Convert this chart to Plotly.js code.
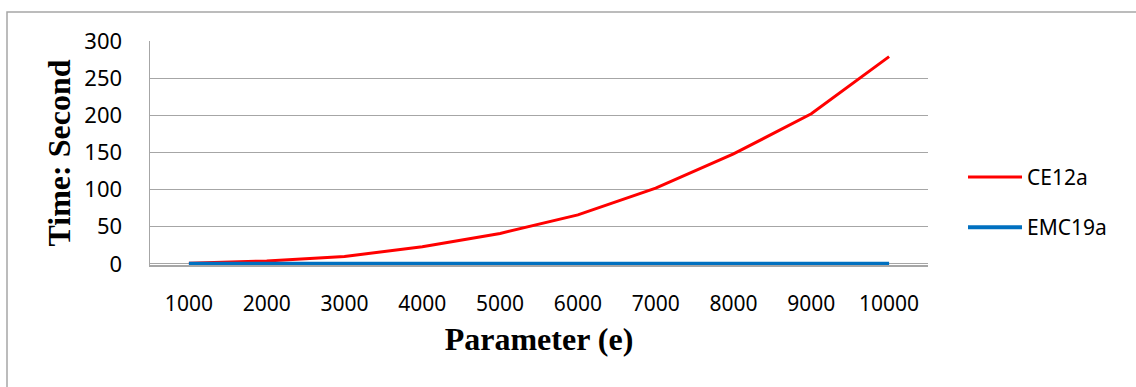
<!DOCTYPE html>
<html>
<head>
<meta charset="utf-8">
<script src="https://cdn.plot.ly/plotly-3.0.1.min.js"></script>
<style>
html,body{margin:0;padding:0;background:#fff;}
#chart{width:1136px;height:387px;}
</style>
</head>
<body>
<div id="chart"></div>
<script>
var categories = ["1000","2000","3000","4000","5000","6000","7000","8000","9000","10000"];
var ce12a = [1, 4, 10, 23, 41, 66, 102, 148, 202, 279];
var emc19a = [0.1, 0.1, 0.1, 0.1, 0.1, 0.1, 0.1, 0.1, 0.1, 0.1];
var yTicks = [0, 50, 100, 150, 200, 250, 300];

var traces = [
  {x: categories, y: ce12a, name: "CE12a", type: "scatter", mode: "lines",
   line: {color: "#ff0000", width: 3}, legendgroup: "a"},
  {x: categories, y: emc19a, name: "EMC19a", type: "scatter", mode: "lines",
   line: {color: "#0070c0", width: 4}, legendgroup: "b"}
];

var layout = {
  width: 1136, height: 387,
  margin: {l: 150, r: 208, t: 41, b: 122, pad: 0},
  paper_bgcolor: "#ffffff", plot_bgcolor: "#ffffff",
  font: {family: "Noto Sans, sans-serif", color: "#000000", size: 21},
  showlegend: true,
  legend: {x: 1.045, xanchor: "left", y: 0.28, yanchor: "middle",
           font: {family: "Noto Sans, sans-serif", size: 21, color: "#000"},
           itemwidth: 54,
           tracegroupgap: 20, traceorder: "grouped", borderwidth: 0, bgcolor: "rgba(0,0,0,0)"},
  xaxis: {type: "category", range: [-0.5, 9.5], showgrid: false, zeroline: false,
          showline: true, linecolor: "#a6a6a6", linewidth: 1.5, layer: "below traces",
          ticks: "", ticklabelstandoff: 19,
          tickfont: {family: "Noto Sans, sans-serif", size: 21},
          title: {text: "Parameter (e)", standoff: 12,
                  font: {family: "Liberation Serif, Times New Roman, serif", size: 32, weight: "bold", color: "#000"}}},
  yaxis: {range: [-1.5, 300], tickvals: yTicks, showgrid: true, gridcolor: "#a6a6a6", gridwidth: 1.2,
          zeroline: false, showline: true, linecolor: "#a6a6a6", linewidth: 1.5, layer: "below traces",
          ticks: "", ticklabelstandoff: 22,
          tickfont: {family: "Noto Sans, sans-serif", size: 22},
          title: {text: "Time: Second", standoff: 4,
                  font: {family: "Liberation Serif, Times New Roman, serif", size: 32, weight: "bold", color: "#000"}}},
  shapes: [
    {type: "rect", xref: "paper", yref: "paper", x0: -0.1838, x1: 1.5, y0: -1, y1: 1.1295,
     line: {color: "#a6a6a6", width: 1.5}, fillcolor: "rgba(0,0,0,0)", layer: "below"}
  ]
};

Plotly.newPlot("chart", traces, layout, {displayModeBar: false, staticPlot: true});
</script>
</body>
</html>
